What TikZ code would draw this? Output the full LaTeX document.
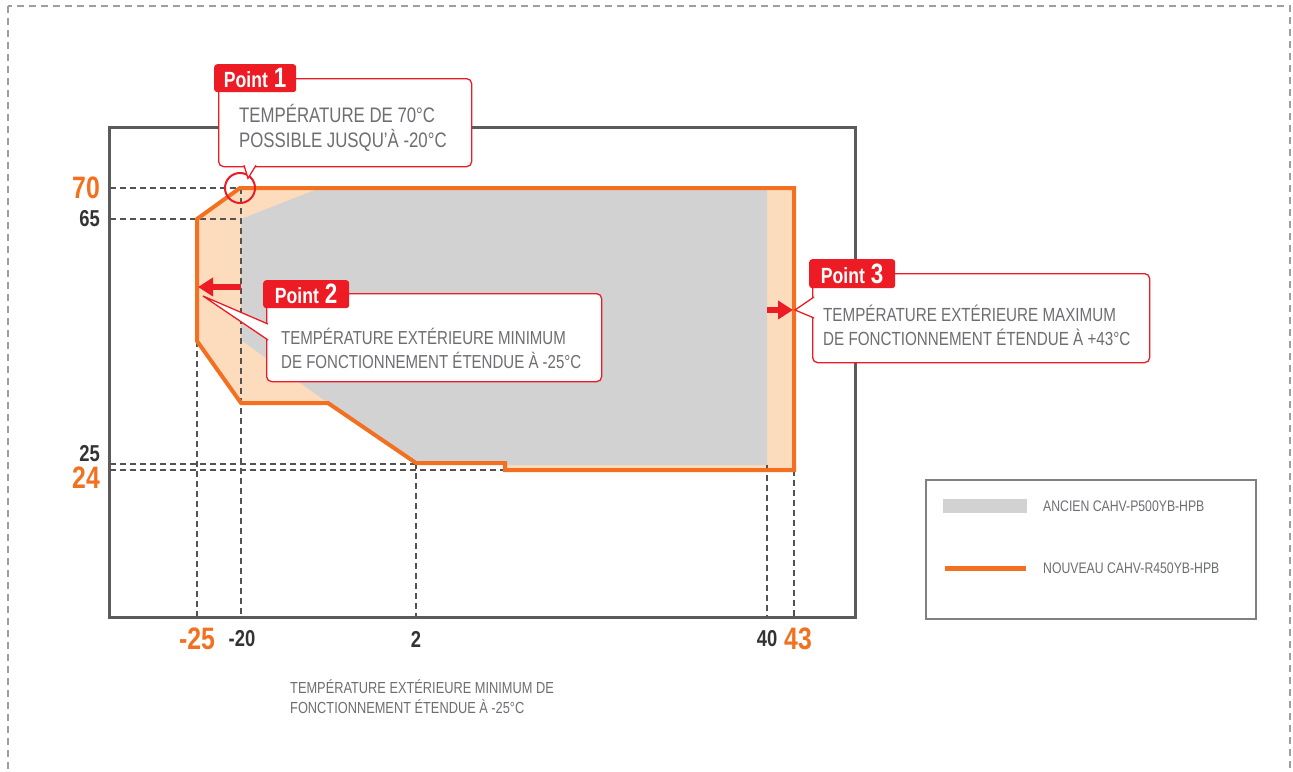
\documentclass[tikz,border=0pt]{standalone}
\usepackage{fontspec}
\setmainfont{Liberation Sans}[FakeStretch=0.8]
\usetikzlibrary{positioning,arrows.meta}
\definecolor{orng}{HTML}{F37021}
\definecolor{peach}{HTML}{FCDCBD}
\definecolor{oldgray}{HTML}{D2D2D2}
\definecolor{pred}{HTML}{ED1C24}
\definecolor{txtgray}{HTML}{6D6E71}
\definecolor{axgray}{HTML}{333333}
\definecolor{frmgray}{HTML}{5B5B5B}
\newcommand\pointlabel[1]{{\bfseries\fontsize{22}{22}\selectfont Point}\hspace{6pt}{\bfseries\fontsize{28}{28}\selectfont #1}}
\tikzset{
  guide/.style={draw=frmgray!90!black,line width=1.3pt,dash pattern=on 6pt off 4pt},
  callbox/.style={draw=pred,line width=1.3pt,fill=white,rounded corners=5pt,anchor=north west,inner sep=0pt},
  calltab/.style={fill=pred,rounded corners=3pt,anchor=north west,text=white,inner sep=0pt},
  calltext/.style={anchor=west,align=left,text=txtgray,inner sep=0pt,font=\fontsize{19}{24}\selectfont},
  callline/.style={draw=pred,line width=1.3pt,fill=white},
  redarrow/.style={pred,line width=6pt,-{Triangle[length=15pt,width=18pt]}},
  legtext/.style={anchor=west,text=txtgray,inner sep=0pt,font=\fontsize{15.3}{18}\selectfont}
}
\begin{document}
\begin{tikzpicture}[x=1pt,y=-1pt]
\useasboundingbox (0,0) rectangle (1293,771);
\draw[draw=black!38,line width=2.5pt,dash pattern=on 7pt off 5pt] (8,6) rectangle (1290,790);
\draw[frmgray,line width=3pt] (109,127) rectangle (855,617);
%
\fill[peach] (197,219)--(240,188)--(794,188)--(794,470)--(505,470)--(505,463)--(416,463)--(328,403)--(241,403)--(197,341)--cycle;
\fill[oldgray] (241,219)--(320,188)--(767,188)--(767,465)--(505,465)--(505,463)--(416,463)--(328,403)--(241,340)--cycle;
\foreach \x/\y in {197/341,241/188,416/463,767/465,794/470}{\draw[guide](\x,\y)--(\x,617);}
\foreach \y/\x in {188/240,219/241,464/416,470/505}{\draw[guide](110,\y)--(\x,\y);}
\draw[orng,line width=4pt] (197,219)--(240,188)--(794,188)--(794,470)--(505,470)--(505,463)--(416,463)--(328,403)--(241,403)--(197,341)--cycle;
%
\foreach \y/\l/\c/\f/\n in {188/70/orng/31/y70,219/65/axgray/23/y65,454/25/axgray/23/y25,478/24/orng/31/y24}
  {\node[anchor=east,inner sep=0pt,text=\c,font=\bfseries\fontsize{\f}{\f}\selectfont] (\n) at (100,\y) {\l};}
\foreach \x/\l/\c/\f/\n in {197/-25/orng/31/xm25,242/-20/axgray/23/xm20,416/2/axgray/23/x2,767/40/axgray/23/x40,798/43/orng/31/x43}
  {\node[inner sep=0pt,text=\c,font=\bfseries\fontsize{\f}{\f}\selectfont] (\n) at (\x,639) {\l};}
\node[anchor=west,align=left,text=txtgray,inner sep=0pt,font=\fontsize{16}{20}\selectfont] (note) at (290,697)
  {TEMPÉRATURE EXTÉRIEURE MINIMUM DE\\FONCTIONNEMENT ÉTENDUE À -25°C};
%
\node[circle,draw=pred,line width=2pt,minimum size=30pt,inner sep=0pt] (ring) at (240,188) {};
\node[callbox,minimum width=253pt,minimum height=88pt] (box1) at (218,78) {};
\draw[callline] (box1.south west) ++(26,-2) -- ++(4,13) -- ++(8,-13);
\node[calltab,minimum width=82pt,minimum height=28pt] (tab1) at (214,64) {\pointlabel{1}};
\node[calltext,font=\fontsize{21}{25}\selectfont] (txt1) at (239,128) {TEMPÉRATURE DE 70°C\\POSSIBLE JUSQU’À -20°C};
%
\coordinate (tip2) at (203,296);
\coordinate (a2) at (241,287);
\draw[redarrow] (a2) -- (198,287);
\node[callbox,minimum width=335pt,minimum height=88pt] (box2) at (266,293) {};
\draw[callline] (box2.north west) ++(2,31) -- (tip2) -- ([shift={(2,47)}]box2.north west);
\node[calltab,minimum width=86pt,minimum height=28pt] (tab2) at (263,280) {\pointlabel{2}};
\node[calltext,font=\fontsize{18.8}{24}\selectfont] (txt2) at (281,348) {TEMPÉRATURE EXTÉRIEURE MINIMUM\\DE FONCTIONNEMENT ÉTENDUE À -25°C};
%
\coordinate (tip3) at (795,310);
\coordinate (a3) at (767,310);
\draw[redarrow] (a3) -- (793,310);
\node[callbox,minimum width=337pt,minimum height=89pt] (box3) at (812,273) {};
\draw[callline] (box3.north west) ++(2,24) -- (tip3) -- ([shift={(2,45)}]box3.north west);
\node[calltab,minimum width=86pt,minimum height=29pt] (tab3) at (809,259) {\pointlabel{3}};
\node[calltext] (txt3) at (823,325) {TEMPÉRATURE EXTÉRIEURE MAXIMUM\\DE FONCTIONNEMENT ÉTENDUE À +43°C};
%
\node[draw=black!50,line width=1.5pt,minimum width=330pt,minimum height=139pt,anchor=north west] (legend) at (925,479) {};
\node[fill=oldgray,minimum width=84pt,minimum height=14pt,inner sep=0pt,anchor=west] (sw1) at (943,506) {};
\node[fill=orng,minimum width=81pt,minimum height=5pt,inner sep=0pt,anchor=west] (sw2) at (945,568) {};
\node[legtext] (lg1) at (1043,506) {ANCIEN CAHV-P500YB-HPB};
\node[legtext] (lg2) at (1043,568) {NOUVEAU CAHV-R450YB-HPB};
\end{tikzpicture}
\end{document}
